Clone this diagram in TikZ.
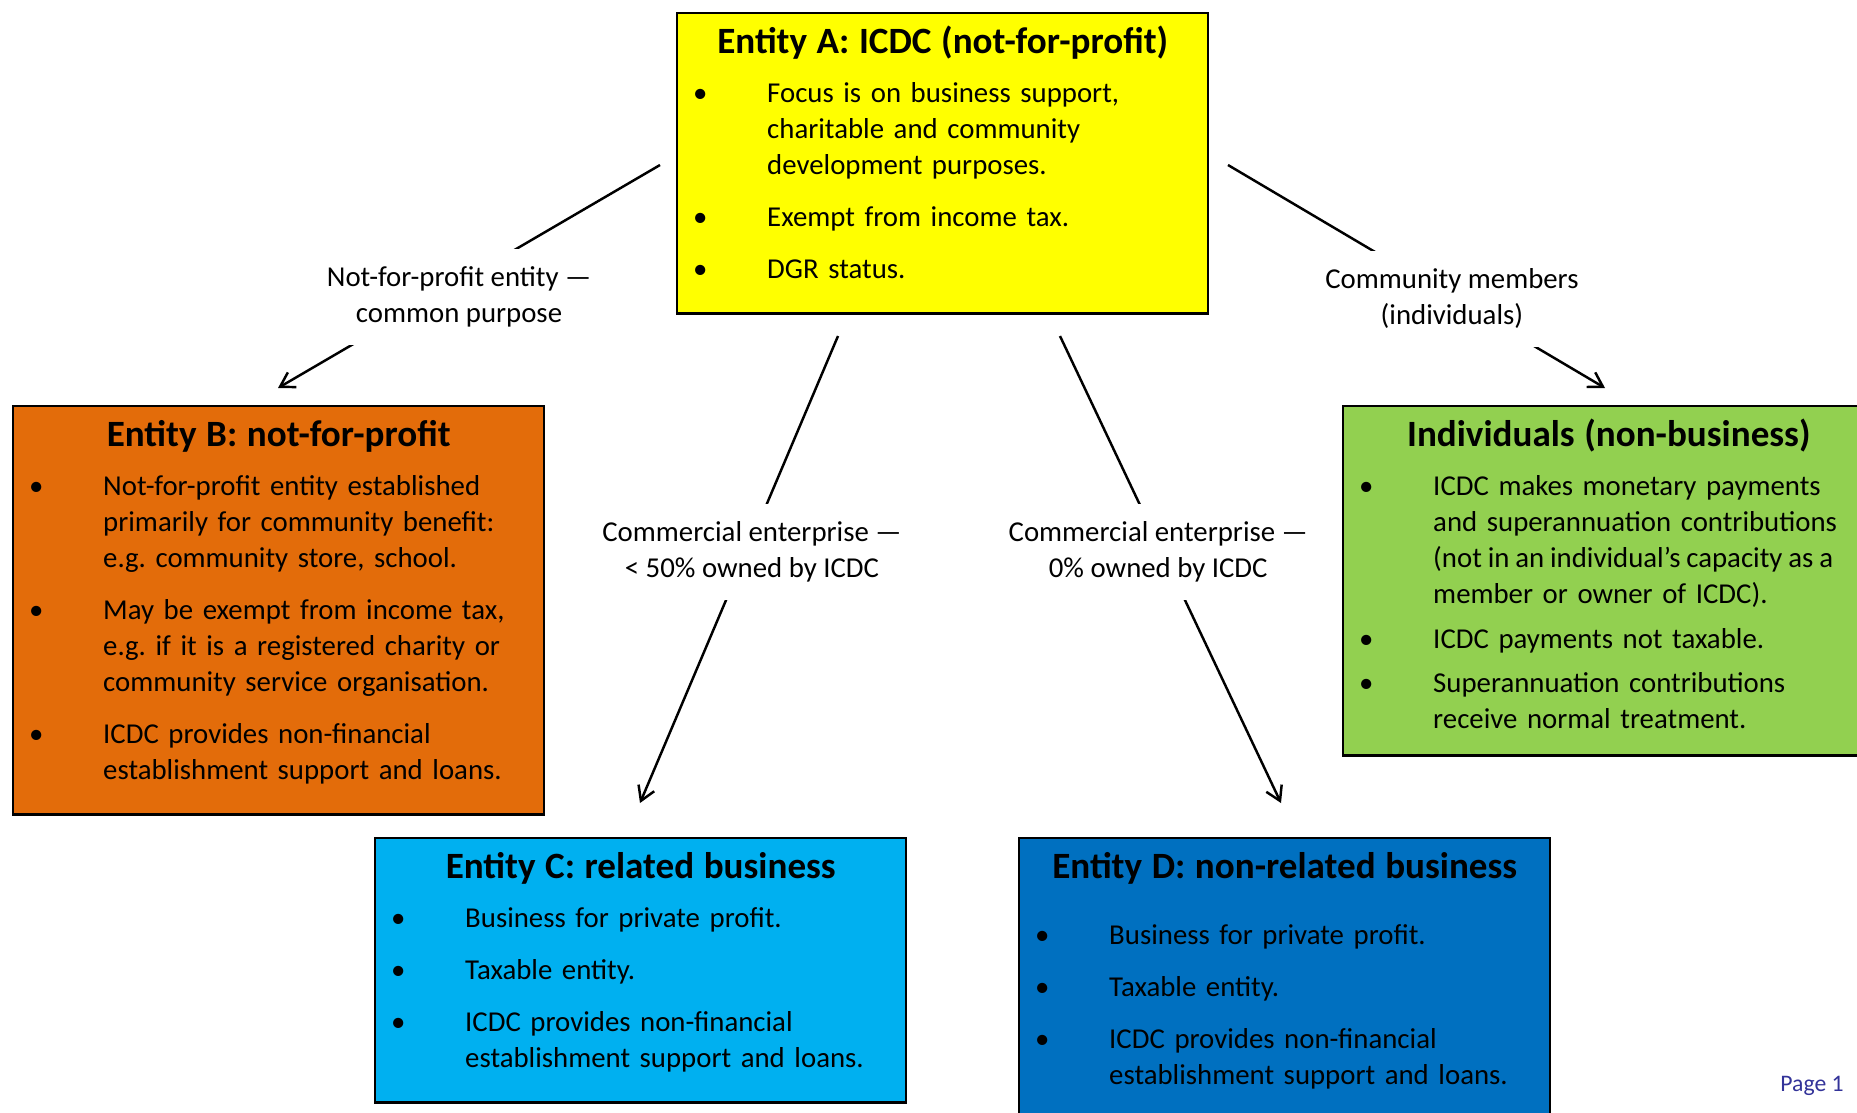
\documentclass[tikz,border=0pt]{standalone}
\usepackage{fontspec}
\setmainfont{Carlito}
\usepackage{enumitem}
\usepackage{xcolor}
\usetikzlibrary{arrows.meta, positioning}
\frenchspacing
\definecolor{icdcyellow}{RGB}{255,255,0}
\definecolor{nfporange}{RGB}{227,108,10}
\definecolor{indgreen}{RGB}{146,208,80}
\definecolor{relblue}{RGB}{0,176,240}
\definecolor{nonrelblue}{RGB}{0,112,192}
\definecolor{pagenavy}{RGB}{51,51,153}
\newcommand{\bodyfont}{\fontsize{0.576cm}{0.72cm}\selectfont}
\newcommand{\headfont}{\fontsize{0.742cm}{0.9cm}\selectfont\bfseries}
\newcommand{\pagefont}{\fontsize{0.474cm}{0.57cm}\selectfont}
\newcommand{\entityhead}[2][0.27cm]{{\centering\headfont\rule{0pt}{0.556cm}#2\par}\vspace{#1}}
% tighter word spaces for one long line
\newcommand{\tightline}[1]{{\spaceskip=0.9\fontdimen2\font plus 0.1\fontdimen2\font\relax #1}}
\newlist{points}{itemize}{1}
\setlist[points]{label=\textbullet, align=left, leftmargin=1.48cm, labelwidth=1.48cm,
                 labelsep=0pt, labelindent=0pt, topsep=0pt, partopsep=0pt, parsep=0pt,
                 itemsep=0.32cm, after=\vspace{0.24cm}}
\tikzset{
    entity/.style={rectangle, draw=black, line width=1.4pt, text width=9.98cm,
                   inner xsep=0.32cm, inner ysep=0.24cm, align=left,
                   anchor=north west, font=\bodyfont, text=black},
    reltext/.style={fill=white, align=center, inner xsep=0.1cm, inner ysep=0.24cm,
                    font=\bodyfont},
    link/.style={line width=1.4pt, draw=black},
    arrow/.style={link, -{Straight Barb[length=0.28cm, width=0.34cm]}},
}
\begin{document}
\begin{tikzpicture}
    \path[clip, use as bounding box] (0,0) rectangle (37.14,-22.24);

    % Entities
    \node[entity, fill=icdcyellow] (entA) at (13.52,-0.24) {\entityhead{Entity A: ICDC (not-for-profit)}
        \begin{points}
        \item Focus is on business support,\newline charitable and community\newline development purposes.
        \item Exempt from income tax.
        \item DGR status.\strut
        \end{points}};
    \node[entity, fill=nfporange] (entB) at (0.24,-8.10) {\entityhead{Entity B: not-for-profit}
        \begin{points}
        \item Not-for-profit entity established\newline primarily for community benefit:\newline e.g. community store, school.
        \item May be exempt from income tax,\newline e.g. if it is a registered charity or\newline community service organisation.
        \item ICDC provides non-financial\newline establishment support and loans.\strut
        \end{points}};
    % right edge runs off the page, so the text may run a little wider
    \node[entity, fill=indgreen, text width=10.4cm] (entInd) at (26.84,-8.10) {\entityhead{\hspace*{-0.42cm}Individuals (non-business)}
        \begin{points}[itemsep=0.17cm, after=\vspace{0.08cm}]
        \item ICDC makes monetary payments\newline and superannuation contributions\newline \tightline{(not in an individual’s capacity as a}\newline member or owner of ICDC).
        \item ICDC payments not taxable.
        \item Superannuation contributions\newline receive normal treatment.\strut
        \end{points}};
    \node[entity, fill=relblue] (entC) at (7.48,-16.74) {\entityhead{Entity C: related business}
        \begin{points}
        \item Business for private profit.
        \item Taxable entity.
        \item ICDC provides non-financial\newline establishment support and loans.\strut
        \end{points}};
    \node[entity, fill=nonrelblue] (entD) at (20.36,-16.74) {\entityhead[0.6cm]{Entity D: non-related business}
        \begin{points}
        \item Business for private profit.
        \item Taxable entity.
        \item ICDC provides non-financial\newline establishment support and loans.\strut
        \end{points}};

    % Connector ends
    \coordinate (sB) at (13.20,-3.30);
    \coordinate (tB) at (5.56,-7.76);
    \coordinate (sInd) at (24.56,-3.30);
    \coordinate (tInd) at (32.10,-7.76);
    \coordinate (sC) at (16.76,-6.72);
    \coordinate (tC) at (12.80,-16.06);
    \coordinate (sD) at (21.20,-6.72);
    \coordinate (tD) at (25.62,-16.06);

    % Relationships
    \draw[arrow] (sB) -- node[reltext, pos=0.526, yshift=-0.3cm] (relB)
        {\strut Not-for-profit entity —\\common purpose\strut} (tB);
    \draw[arrow] (sInd) -- node[reltext, pos=0.594, yshift=-0.04cm] (relInd)
        {\strut Community members\\(individuals)\strut} (tInd);
    \draw[arrow] (sC) -- node[reltext, pos=0.4625, xshift=0.11cm] (relC)
        {\strut Commercial enterprise —\\< 50\% owned by ICDC\strut} (tC);
    \draw[arrow] (sD) -- node[reltext, pos=0.4625, xshift=-0.08cm] (relD)
        {\strut Commercial enterprise —\\0\% owned by ICDC\strut} (tD);

    % Footer
    \node[anchor=base east, inner sep=0pt, text=pagenavy, font=\pagefont] (pageno)
        at (36.88,-21.82) {Page 1};
\end{tikzpicture}
\end{document}
